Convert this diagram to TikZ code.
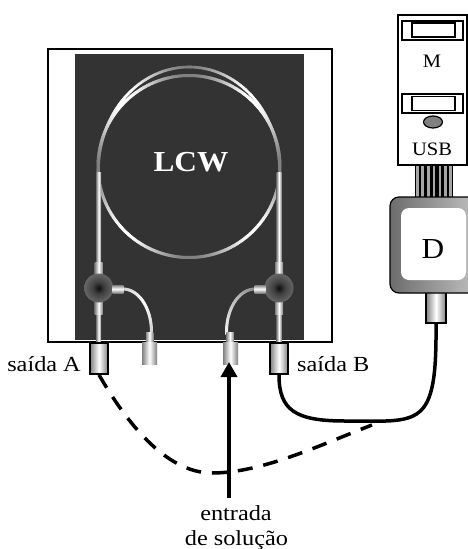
\documentclass[tikz,border=0pt]{standalone}
\usepackage{fontspec}
\setmainfont[FakeStretch=1.08]{Liberation Serif}
\newfontfamily\widefont[FakeStretch=1.13]{Liberation Serif}
\usetikzlibrary{arrows.meta}
\definecolor{dark}{HTML}{333333}
\definecolor{tg}{HTML}{808080}
\pgfdeclareradialshading{fitball}{\pgfpoint{0bp}{0bp}}{%
  rgb(0bp)=(0.05,0.05,0.05);rgb(10bp)=(0.25,0.25,0.25);rgb(30bp)=(0.45,0.45,0.45);rgb(50bp)=(0.55,0.55,0.55)}
\tikzset{
  x=1pt,y=-1pt,
  lab/.style={font=\fontsize{19}{22}\selectfont,text=black,inner sep=0pt,align=center},
  biglab/.style={font=\widefont\fontsize{21.5}{25}\selectfont,text=black,inner sep=0pt,align=center},
  plug/.style={draw=black,line width=1.7pt,inner sep=0pt,minimum width=18pt,minimum height=31pt,left color=tg,right color=tg,middle color=white},
  stub/.style={inner sep=0pt,left color=tg,right color=tg,middle color=white},
  hstub/.style={inner sep=0pt,top color=tg,bottom color=tg,middle color=white},
  ball/.style={circle,inner sep=0pt,minimum size=29pt,shading=fitball},
  frame/.style={draw=black,line width=1.4pt},
  cable/.style={line width=3.5pt,black},
}
\newcommand{\ringseg}[8]{% cx cy rx ry from to width phase
  \foreach \a in {#5,...,#6}{
    \pgfmathsetmacro{\f}{100*(sin(2*\a+#8))^2}
    \pgfmathsetmacro{\ax}{#1+#3*cos(\a)}
    \pgfmathsetmacro{\ay}{#2-#4*sin(\a)}
    \pgfmathsetmacro{\bx}{#1+#3*cos(\a+1.5)}
    \pgfmathsetmacro{\by}{#2-#4*sin(\a+1.5)}
    \draw[line width=#7pt,color=white!\f!tg] (\ax,\ay) -- (\bx,\by);
  }}
\begin{document}
\begin{tikzpicture}
\useasboundingbox (0,0) rectangle (468,549);
\begin{scope}
\clip (0,0) rectangle (468,549);
% instrument body
\node[frame,fill=white,inner sep=0pt,minimum width=284pt,minimum height=293pt] (body) at (190,195.5) {};
\node[fill=dark,inner sep=0pt,minimum width=229pt,minimum height=286pt] (panel) at (189.5,197) {};
% fibre loop
\ringseg{189}{170}{90.5}{103}{0}{180}{2.6}{0}
\ringseg{189}{166.5}{91}{91}{0}{359}{3}{0}
% vertical tubes
\node[stub,minimum width=5pt,minimum height=95pt] (tl) at (98.7,220) {};
\node[stub,minimum width=5pt,minimum height=95pt] (tr) at (279,220) {};
\node[stub,minimum width=5pt,minimum height=30pt] (tl2) at (98.7,327) {};
\node[stub,minimum width=5pt,minimum height=30pt] (tr2) at (279,327) {};
% curved tubes
\foreach \t in {0,3,...,90}{
  \pgfmathsetmacro{\f}{100-35*abs(\t-45)/45}
  \pgfmathsetmacro{\ax}{123+28.5*sin(\t)}
  \pgfmathsetmacro{\ay}{332-43*cos(\t)}
  \pgfmathsetmacro{\bx}{123+28.5*sin(\t+3.5)}
  \pgfmathsetmacro{\by}{332-43*cos(\t+3.5)}
  \draw[line width=3pt,color=white!\f!tg] (\ax,\ay) -- (\bx,\by);
  \pgfmathsetmacro{\g}{\t*0.9+10}
  \pgfmathsetmacro{\cx}{255-28.5*sin(\t)}
  \pgfmathsetmacro{\dx}{255-28.5*sin(\t+3.5)}
  \draw[line width=3pt,color=white!\g!tg] (\cx,\ay) -- (\dx,\by);
}
% T fittings
\node[stub,minimum width=8pt,minimum height=14pt] (lu) at (98.7,269) {};
\node[stub,minimum width=8pt,minimum height=14pt] (ru) at (279,269) {};
\node[stub,minimum width=8pt,minimum height=14pt] (ld) at (98.7,307) {};
\node[stub,minimum width=8pt,minimum height=14pt] (rd) at (279,307) {};
\node[ball] (bl) at (98.7,288) {};
\node[ball] (br) at (279,288) {};
\node[hstub,minimum width=11pt,minimum height=8pt] (ls) at (118,289) {};
\node[hstub,minimum width=11pt,minimum height=8pt] (rs) at (260,289) {};
% ports
\node[stub,minimum width=7.5pt,minimum height=10pt] (p1s) at (149.5,337) {};
\node[stub,minimum width=7.5pt,minimum height=10pt] (p2s) at (230,337) {};
\node[stub,minimum width=15pt,minimum height=22pt] (p1) at (149.5,353) {};
\node[stub,minimum width=15pt,minimum height=22pt] (p2) at (230.5,353) {};
\node[plug] (pa) at (99,358.5) {};
\node[plug] (pb) at (279,358.5) {};
\node[font=\bfseries\fontsize{29}{32}\selectfont,text=white,inner sep=0pt] (lcw) at (191,162) {LCW};
% USB module
\fill[black] (415,165) rectangle (453,198);
\foreach \x in {417.5,422.5,428.5,434,440,445.5,450.5}{
  \draw[line width=2.2pt,color=tg!70!white] (\x,165) -- (\x,198);
}
\node[frame,fill=white,inner sep=0pt,minimum width=69pt,minimum height=150pt] (usb) at (432.5,90) {};
\node[frame,fill=white,inner sep=0pt,minimum width=61pt,minimum height=19pt] (s1o) at (432.5,30.5) {};
\node[frame,fill=white,inner sep=0pt,minimum width=43pt,minimum height=14pt] (s1i) at (433.5,30) {};
\node[frame,fill=white,inner sep=0pt,minimum width=61pt,minimum height=19pt] (s2o) at (432.5,103.5) {};
\node[frame,fill=white,inner sep=0pt,minimum width=43pt,minimum height=14pt] (s2i) at (433.5,103.5) {};
\draw[black,line width=1.2pt,fill=tg] (433,122) ellipse [x radius=9.5,y radius=6];
\node[lab] (m) at (432,61) {M};
\node[lab] (u) at (432,149) {USB};
% detector
\node[stub,draw=black,line width=1.4pt,minimum width=20pt,minimum height=32pt] (dp) at (436,307) {};
\node[draw=black,line width=1.2pt,inner sep=0pt,rounded corners=9pt,minimum width=100pt,minimum height=96pt,left color=tg!85!black,right color=tg!40!white] (det) at (440,245) {};
\node[fill=white,inner sep=0pt,rounded corners=8pt,minimum width=65pt,minimum height=72pt] (deti) at (433.5,244) {};
\node[font=\fontsize{29}{32}\selectfont,inner sep=0pt] (d) at (433,249) {D};
% cables
\coordinate (ce) at (372,425);
\draw[cable] (pb.south) .. controls (279,410) and (295,421) .. (345,421) .. controls (420,421) and (437,430) .. (dp.south);
\draw[cable,dash pattern=on 15pt off 11pt] (pa.south) .. controls (125,420) and (165,473) .. (212,473) .. controls (262,473) and (320,445) .. (ce);
% labels
\node[biglab,anchor=base] (en) at (236,520) {entrada};
\node[biglab,anchor=base] (so) at (236.5,545) {de solução};
% arrow
\coordinate (at) at (229,498);
\coordinate (tip) at (229,362);
\draw[cable,-{Triangle[length=15pt,width=16pt]}] (at) -- (tip);
\node[biglab,anchor=base east] (sa) at (81,371) {saída A};
\node[biglab,anchor=base west] (sb) at (297,371) {saída B};
\end{scope}
\end{tikzpicture}
\end{document}
